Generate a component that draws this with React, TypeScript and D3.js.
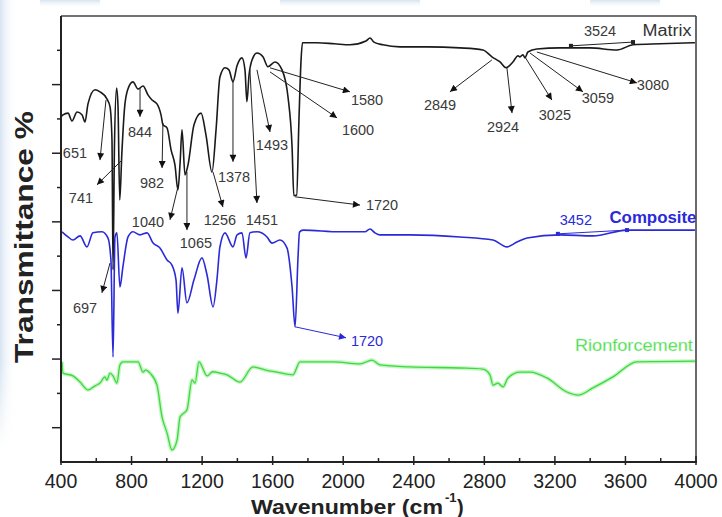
import React from "react";
import * as d3 from "d3";

// ---------- data (wavenumber cm-1, transmittance offset units) ----------
const matrixSpectrum: [number, number][] = [
  [400, 100.6], [411, 101.2], [440, 101.7], [462, 99.4], [491, 102.0], [519, 101.2], [536, 99.1],
  [553, 104.4], [593, 108.5], [621, 107.9], [661, 105.8], [678, 103.5], [689, 93.9], [695, 56.0],
  [703, 92.0], [715, 109.0], [723, 104.0], [733, 76.4], [745, 90.0], [760, 103.0], [778, 108.5],
  [808, 110.8], [837, 108.7], [865, 109.6], [893, 107.0], [916, 105.5], [944, 104.4], [967, 101.2],
  [978, 98.3], [1001, 97.4], [1024, 91.0], [1046, 86.6], [1063, 79.3], [1075, 87.0], [1086, 96.8],
  [1103, 83.7], [1120, 86.6], [1154, 98.3], [1194, 101.7], [1222, 95.3], [1256, 84.5], [1279, 96.8],
  [1301, 112.2], [1330, 114.9], [1352, 114.3], [1375, 110.8], [1398, 115.5], [1426, 117.8],
  [1443, 114.3], [1454, 105.0], [1466, 112.8], [1483, 117.2], [1511, 119.2], [1545, 118.1],
  [1573, 115.2], [1613, 116.6], [1653, 114.3], [1687, 106.4], [1710, 91.8], [1720, 77.6],
  [1736, 77.8], [1749, 99.7], [1761, 117.2], [1769, 122.2], [1851, 122.2], [1950, 121.9],
  [2038, 121.6], [2129, 122.7], [2152, 123.6], [2174, 122.4], [2225, 121.6], [2322, 121.0],
  [2475, 121.0], [2662, 120.7], [2792, 120.1], [2843, 118.1], [2889, 116.6], [2923, 114.9],
  [2962, 116.6], [2991, 118.4], [3002, 118.1], [3019, 118.7], [3030, 117.8], [3047, 119.5],
  [3098, 120.4], [3229, 120.7], [3399, 120.7], [3552, 120.1], [3643, 121.6], [3796, 121.9],
  [3994, 122.2],
];

const compositeSpectrum: [number, number][] = [
  [406, 67.1], [440, 65.6], [468, 64.7], [508, 65.9], [547, 62.7], [581, 66.8], [632, 67.1],
  [666, 65.3], [683, 58.9], [695, 30.6], [706, 65.6], [717, 66.8], [734, 51.0], [751, 56.9],
  [780, 65.6], [808, 67.1], [848, 66.2], [888, 66.8], [922, 63.8], [961, 62.4], [1001, 58.9],
  [1029, 57.4], [1052, 53.1], [1063, 43.4], [1086, 56.6], [1114, 46.4], [1154, 53.1],
  [1199, 59.5], [1228, 54.5], [1262, 45.2], [1284, 53.1], [1301, 62.7], [1330, 66.8],
  [1375, 62.7], [1398, 66.2], [1426, 66.8], [1449, 59.5], [1471, 66.8], [1511, 67.1],
  [1568, 65.6], [1596, 63.8], [1641, 64.7], [1681, 62.4], [1710, 51.0], [1727, 39.4],
  [1744, 60.0], [1752, 67.0], [1772, 67.6], [1982, 67.1], [2123, 67.1], [2152, 67.9],
  [2180, 66.8], [2208, 66.2], [2378, 66.2], [2662, 65.6], [2849, 64.7], [2928, 62.7],
  [2985, 64.1], [3042, 65.3], [3229, 66.2], [3416, 65.9], [3609, 67.6], [3994, 67.6],
];

const reinforcementSpectrum: [number, number][] = [
  [406, 29.2], [411, 25.9], [468, 25.1], [508, 23.3], [553, 21.0], [593, 22.2], [621, 23.0],
  [649, 24.8], [660, 23.9], [678, 25.9], [695, 25.1], [717, 23.0], [734, 28.3], [751, 29.2],
  [837, 29.2], [865, 26.2], [880, 26.8], [905, 25.9], [944, 22.4], [973, 13.1], [1001, 8.5],
  [1029, 3.5], [1058, 6.4], [1075, 13.1], [1090, 14.0], [1114, 15.2], [1143, 23.9], [1160, 23.0],
  [1182, 29.2], [1228, 25.1], [1260, 26.3], [1301, 25.9], [1341, 25.4], [1415, 23.3], [1488, 27.7],
  [1560, 26.8], [1624, 26.2], [1715, 25.4], [1755, 29.2], [1942, 29.2], [2095, 28.6], [2163, 29.7],
  [2208, 28.3], [2378, 27.7], [2662, 27.4], [2792, 27.1], [2832, 25.4], [2849, 22.4], [2877, 23.0],
  [2906, 21.9], [2934, 24.5], [3002, 26.2], [3059, 26.2], [3155, 24.5], [3268, 20.4], [3331, 19.5],
  [3416, 21.6], [3529, 24.8], [3665, 29.2], [3994, 29.4],
];

const xTickValues = [400, 800, 1200, 1600, 2000, 2400, 2800, 3200, 3600, 4000];
const xMinorTicks = [600, 1000, 1400, 1800, 2200, 2600, 3000, 3400, 3800];
const yTickValues = [10, 20, 30, 40, 50, 60, 70, 80, 90, 100, 110, 120];

// peak annotations: label, label position, arrow from, arrow to (data units)
type Ann = { label: string; at: [number, number]; from: [number, number]; to: [number, number]; series: "m" | "c" };
const peakAnnotations: Ann[] = [
  { label: "651", at: [479, 90.1], from: [655, 105.5], to: [621, 88.0], series: "m" },
  { label: "741", at: [513, 77.0], from: [746, 88.0], to: [604, 80.8], series: "m" },
  { label: "844", at: [848, 96.2], from: [848, 109.0], to: [848, 100.6], series: "m" },
  { label: "982", at: [916, 81.3], from: [978, 98.8], to: [973, 85.7], series: "m" },
  { label: "1040", at: [893, 70.0], from: [1063, 80.2], to: [1018, 70.6], series: "m" },
  { label: "1065", at: [1165, 63.8], from: [1114, 84.5], to: [1114, 67.6], series: "m" },
  { label: "1256", at: [1301, 70.6], from: [1262, 84.5], to: [1318, 74.3], series: "m" },
  { label: "1378", at: [1381, 83.1], from: [1375, 111.4], to: [1375, 87.5], series: "m" },
  { label: "1451", at: [1539, 70.6], from: [1471, 114.3], to: [1511, 75.5], series: "m" },
  { label: "1493", at: [1596, 92.4], from: [1511, 114.3], to: [1585, 96.2], series: "m" },
  { label: "1580", at: [2135, 105.5], from: [1585, 114.9], to: [2038, 107.9], series: "m" },
  { label: "1600", at: [2084, 96.8], from: [1585, 113.7], to: [1965, 100.3], series: "m" },
  { label: "1720", at: [2220, 74.9], from: [1727, 77.3], to: [2095, 74.9], series: "m" },
  { label: "697", at: [536, 44.9], from: [678, 58.0], to: [632, 49.3], series: "m" },
  { label: "1720", at: [2135, 35.3], from: [1727, 39.4], to: [2016, 36.2], series: "c" },
  { label: "2849", at: [2549, 104.1], from: [2843, 117.2], to: [2605, 107.9], series: "m" },
  { label: "2924", at: [2906, 97.7], from: [2928, 114.9], to: [2957, 101.7], series: "m" },
  { label: "3025", at: [3200, 101.2], from: [3030, 118.1], to: [3183, 105.5], series: "m" },
  { label: "3059", at: [3444, 106.1], from: [3059, 119.2], to: [3359, 107.9], series: "m" },
  { label: "3080", at: [3756, 109.9], from: [3098, 119.5], to: [3665, 110.5], series: "m" },
];

type Seg = { label: string; at: [number, number]; a: [number, number]; b: [number, number]; series: "m" | "c" };
const bandSegments: Seg[] = [
  { label: "3524", at: [3456, 125.7], a: [3291, 121.3], b: [3643, 122.4], series: "m" },
  { label: "3452", at: [3319, 70.6], a: [3217, 66.5], b: [3609, 67.6], series: "c" },
];

const seriesNames = ["Matrix", "Composite", "Rionforcement"];
const seriesLabelPos: [number, number][] = [[3835, 125.7], [3756, 71.4], [3648, 34.1]];

export default function App() {
  const W = 722, H = 517;
  const x = d3.scaleLinear().domain([400, 4000]).range([61, 696]);
  const y = d3.scaleLinear().domain([0, 130]).range([462, 16]);
  const line = d3
    .line<[number, number]>()
    .x((d) => x(d[0]))
    .y((d) => y(d[1]))
    .curve(d3.curveMonotoneX);

  const font = "'Liberation Sans', Arial, Helvetica, sans-serif";
  const black = "#1a1a1a";
  const blue = "#2a2ad8";
  const green = "#3fd83f";
  const annColor = "#3a3a3a";

  return (
    <svg
      width={W}
      height={H}
      viewBox={`0 0 ${W} ${H}`}
      style={{ position: "absolute", left: 0, top: 0, background: "#fff" }}
      fontFamily={font}
    >
      <defs>
        <linearGradient id="leftFade" x1="0" x2="1" y1="0" y2="0">
          <stop offset="0" stopColor="#d6e4f2" />
          <stop offset="1" stopColor="#ffffff" stopOpacity="0" />
        </linearGradient>
        <linearGradient id="leftFadeV" x1="0" x2="0" y1="0" y2="1">
          <stop offset="0" stopColor="#fff" />
          <stop offset="0.8" stopColor="#fff" />
          <stop offset="1" stopColor="#000" />
        </linearGradient>
        <mask id="leftMask">
          <rect x={0} y={0} width={20} height={450} fill="url(#leftFadeV)" />
        </mask>
        <linearGradient id="topFade" x1="0" x2="0" y1="0" y2="1">
          <stop offset="0" stopColor="#d6e4f2" />
          <stop offset="1" stopColor="#ffffff" stopOpacity="0" />
        </linearGradient>
        <marker id="arrK" viewBox="0 0 10 10" refX="10" refY="5" markerWidth="9" markerHeight="7" markerUnits="userSpaceOnUse" orient="auto">
          <path d="M0,0 L10,5 L0,10 z" fill="#111" />
        </marker>
        <marker id="arrB" viewBox="0 0 10 10" refX="10" refY="5" markerWidth="9" markerHeight="7" markerUnits="userSpaceOnUse" orient="auto">
          <path d="M0,0 L10,5 L0,10 z" fill={blue} />
        </marker>
      </defs>
      <rect x={0} y={0} width={W} height={H} fill="#fff" />
      <rect x={0} y={0} width={16} height={450} fill="url(#leftFade)" mask="url(#leftMask)" />
      <rect x={40} y={0} width={60} height={8} fill="url(#topFade)" />
      <rect x={280} y={0} width={140} height={8} fill="url(#topFade)" />
      <rect x={590} y={0} width={70} height={8} fill="url(#topFade)" />

      {/* spectra */}
      <path d={line(matrixSpectrum) ?? ""} fill="none" stroke={black} strokeWidth={1.6} strokeLinejoin="round" />
      <path d={line(compositeSpectrum) ?? ""} fill="none" stroke={blue} strokeWidth={1.6} strokeLinejoin="round" />
      <path d={line(reinforcementSpectrum) ?? ""} fill="none" stroke="#c6f5c6" strokeWidth={4} strokeLinejoin="round" />
      <path d={line(reinforcementSpectrum) ?? ""} fill="none" stroke={green} strokeWidth={1.3} strokeLinejoin="round" />

      {/* peak annotations */}
      {peakAnnotations.map((a, i) => {
        const col = a.series === "c" ? blue : annColor;
        return (
          <g key={"a" + i}>
            <line
              x1={x(a.from[0])}
              y1={y(a.from[1])}
              x2={x(a.to[0])}
              y2={y(a.to[1])}
              stroke={a.series === "c" ? blue : "#222"}
              strokeWidth={1}
              markerEnd={a.series === "c" ? "url(#arrB)" : "url(#arrK)"}
            />
            <text x={x(a.at[0])} y={y(a.at[1])} dy="0.35em" textAnchor="middle" fontSize={14.5} fill={col}>
              {a.label}
            </text>
          </g>
        );
      })}
      {bandSegments.map((s, i) => {
        const col = s.series === "c" ? blue : "#222";
        return (
          <g key={"s" + i}>
            <line x1={x(s.a[0])} y1={y(s.a[1])} x2={x(s.b[0])} y2={y(s.b[1])} stroke={col} strokeWidth={1} />
            <rect x={x(s.a[0]) - 2} y={y(s.a[1]) - 2} width={4} height={4} fill={col} />
            <rect x={x(s.b[0]) - 2} y={y(s.b[1]) - 2} width={4} height={4} fill={col} />
            <text x={x(s.at[0])} y={y(s.at[1])} dy="0.35em" textAnchor="middle" fontSize={14.5} fill={s.series === "c" ? blue : annColor}>
              {s.label}
            </text>
          </g>
        );
      })}

      {/* series labels */}
      <text x={x(seriesLabelPos[0][0])} y={y(seriesLabelPos[0][1])} dy="0.35em" textAnchor="middle" fontSize={16} fill="#333" textLength={49} lengthAdjust="spacingAndGlyphs">
        {seriesNames[0]}
      </text>
      <text x={x(seriesLabelPos[1][0])} y={y(seriesLabelPos[1][1])} dy="0.35em" textAnchor="middle" fontSize={16} fontWeight="bold" fill={blue} textLength={87} lengthAdjust="spacingAndGlyphs">
        {seriesNames[1]}
      </text>
      <text x={x(seriesLabelPos[2][0])} y={y(seriesLabelPos[2][1])} dy="0.35em" textAnchor="middle" fontSize={16} fill={green} stroke="#c6f5c6" strokeWidth={0.4} textLength={118} lengthAdjust="spacingAndGlyphs">
        {seriesNames[2]}
      </text>

      {/* frame */}
      <line x1={61} y1={16} x2={696} y2={16} stroke="#444" strokeWidth={1.6} />
      <line x1={696} y1={16} x2={696} y2={462} stroke="#444" strokeWidth={1.6} />
      <line x1={61} y1={16} x2={61} y2={463} stroke="#222" strokeWidth={2} />
      <line x1={60} y1={462} x2={697} y2={462} stroke="#222" strokeWidth={2} />

      {/* x ticks */}
      {xTickValues.map((t) => (
        <g key={"xt" + t}>
          <line x1={x(t)} x2={x(t)} y1={456} y2={465} stroke="#222" strokeWidth={1.5} />
          <text x={x(t)} y={488} textAnchor="middle" fontSize={19.5} fill="#222">
            {t}
          </text>
        </g>
      ))}
      {xMinorTicks.map((t) => (
        <line key={"xm" + t} x1={x(t)} x2={x(t)} y1={458} y2={462} stroke="#222" strokeWidth={1.5} />
      ))}
      {/* y ticks */}
      {yTickValues.map((t, i) => (
        <line key={"yt" + t} x1={i % 2 === 0 ? 52 : 57} x2={61} y1={y(t)} y2={y(t)} stroke="#222" strokeWidth={1.5} />
      ))}

      {/* axis titles */}
      <text
        transform="translate(33,237) rotate(-90)"
        textAnchor="middle"
        fontSize={26}
        fontWeight="bold"
        fill="#222"
        textLength={252}
        lengthAdjust="spacingAndGlyphs"
      >
        Transmittance %
      </text>
      <text x={251} y={514} fontSize={20} fontWeight="bold" fill="#222" textLength={192} lengthAdjust="spacingAndGlyphs">
        Wavenumber (cm
      </text>
      <text x={445} y={502} fontSize={13} fontWeight="bold" fill="#222">
        -1
      </text>
      <text x={457} y={514} fontSize={20} fontWeight="bold" fill="#222">
        )
      </text>
    </svg>
  );
}
